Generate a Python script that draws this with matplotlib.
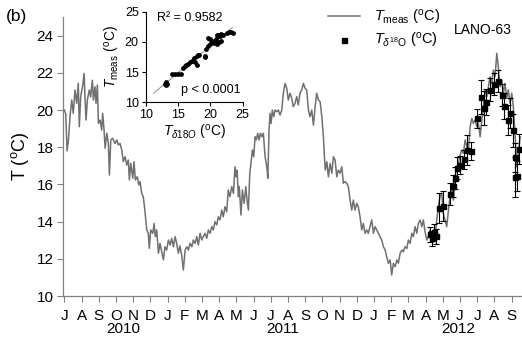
import numpy as np
import matplotlib
matplotlib.use("Agg")
import matplotlib.pyplot as plt
from matplotlib.lines import Line2D
from matplotlib.transforms import blended_transform_factory

plt.rcParams['font.family'] = ['Liberation Sans', 'DejaVu Sans']
plt.rcParams['mathtext.fontset'] = 'custom'
plt.rcParams['mathtext.rm'] = 'Liberation Sans'
plt.rcParams['mathtext.it'] = 'Liberation Sans:italic'
plt.rcParams['mathtext.bf'] = 'Liberation Sans:bold'

# ---- data: time in months since 1 July 2010 ----
meas_month = [0.0, 0.08, 0.16, 0.24, 0.33, 0.43, 0.52, 0.62, 0.72, 0.81, 0.87, 0.95, 1.07, 1.15, 1.2, 1.26,
              1.34, 1.45, 1.53, 1.63, 1.69, 1.78, 1.84, 1.92, 1.98, 2.08, 2.17, 2.23, 2.31, 2.37, 2.47, 2.56,
              2.62, 2.7, 2.81, 2.95, 3.05, 3.14, 3.24, 3.34, 3.43, 3.53, 3.63, 3.72, 3.78, 3.86, 3.98, 4.05,
              4.13, 4.24, 4.33, 4.4, 4.5, 4.59, 4.69, 4.79, 4.88, 4.94, 5.02, 5.14, 5.22, 5.29, 5.37, 5.47,
              5.56, 5.66, 5.76, 5.85, 5.95, 6.05, 6.15, 6.24, 6.34, 6.44, 6.53, 6.63, 6.72, 6.82, 6.92, 7.02,
              7.12, 7.21, 7.31, 7.41, 7.5, 7.6, 7.7, 7.79, 7.89, 7.99, 8.08, 8.18, 8.28, 8.37, 8.47, 8.57,
              8.66, 8.76, 8.86, 8.95, 9.05, 9.15, 9.24, 9.34, 9.44, 9.53, 9.63, 9.73, 9.83, 9.92, 9.98, 10.04,
              10.12, 10.17, 10.27, 10.35, 10.45, 10.55, 10.62, 10.7, 10.78, 10.85, 10.93, 11.01, 11.09, 11.16,
              11.24, 11.32, 11.4, 11.48, 11.57, 11.67, 11.77, 11.83, 11.9, 11.96, 12.02, 12.09, 12.17, 12.25,
              12.35, 12.44, 12.54, 12.64, 12.73, 12.83, 12.93, 13.02, 13.12, 13.22, 13.31, 13.41, 13.51, 13.6,
              13.7, 13.8, 13.9, 13.99, 14.09, 14.19, 14.28, 14.38, 14.48, 14.58, 14.67, 14.77, 14.87, 14.97,
              15.06, 15.12, 15.17, 15.26, 15.35, 15.45, 15.55, 15.64, 15.74, 15.84, 15.93, 16.03, 16.13, 16.22,
              16.32, 16.42, 16.51, 16.61, 16.71, 16.8, 16.9, 17.0, 17.09, 17.19, 17.29, 17.38, 17.48, 17.58,
              17.67, 17.77, 17.87, 17.97, 18.06, 18.16, 18.26, 18.35, 18.45, 18.55, 18.65, 18.74, 18.84, 18.94,
              19.03, 19.13, 19.23, 19.33, 19.42, 19.52, 19.62, 19.71, 19.81, 19.91, 20.0, 20.1, 20.2, 20.29,
              20.39, 20.49, 20.58, 20.68, 20.78, 20.87, 20.97, 21.07, 21.16, 21.26, 21.36, 21.45, 21.55, 21.65,
              21.74, 21.84, 21.94, 22.03, 22.13, 22.23, 22.33, 22.42, 22.52, 22.62, 22.72, 22.81, 22.91, 23.01,
              23.1, 23.2, 23.3, 23.4, 23.49, 23.59, 23.69, 23.78, 23.88, 23.98, 24.07, 24.17, 24.27, 24.36,
              24.46, 24.56, 24.65, 24.75, 24.85, 24.94, 25.04, 25.14, 25.23, 25.33, 25.43, 25.52, 25.62, 25.72,
              25.81, 25.91, 26.01, 26.1, 26.2, 26.3, 26.4, 26.5]
meas_temp = [20.0, 19.8, 17.8, 18.4, 19.64, 20.54, 19.82, 21.08, 20.36, 21.43, 19.1, 20.7, 21.34, 21.97, 20.7, 19.46,
             20.54, 21.08, 20.7, 21.6, 20.54, 21.25, 20.36, 21.34, 19.28, 19.46, 18.92, 19.82, 18.92, 17.94, 18.75, 18.2,
             16.5, 18.39, 18.48, 18.2, 18.39, 18.12, 18.2, 17.85, 17.22, 17.49, 17.04, 17.31, 16.24, 17.13, 16.33, 17.22,
             16.24, 16.41, 15.97, 16.15, 15.52, 15.34, 14.53, 13.55, 13.37, 12.56, 13.55, 13.37, 13.9, 13.19, 13.55, 12.3,
             12.83, 12.38, 11.94, 12.65, 12.47, 13.01, 12.74, 13.1, 12.65, 13.19, 12.83, 12.3, 12.7, 12.2, 11.4, 12.47,
             12.65, 12.47, 12.83, 12.65, 13.01, 12.83, 13.19, 12.74, 13.37, 13.01, 13.19, 13.37, 13.1, 13.55, 13.37, 13.73,
             13.55, 14.0, 13.82, 14.26, 14.09, 14.62, 14.26, 14.8, 14.53, 15.7, 15.34, 15.88, 15.52, 16.95, 16.41, 16.77,
             15.34, 15.88, 14.35, 15.7, 14.98, 15.88, 15.16, 14.62, 16.6, 17.13, 17.85, 17.49, 18.56, 18.39,
             18.75, 18.39, 18.75, 18.56, 18.75, 17.49, 16.95, 16.33, 18.92, 19.82, 19.28, 20.0, 19.64, 20.0,
             19.91, 20.0, 19.73, 20.0, 20.9, 21.43, 21.17, 20.54, 20.9, 20.63, 20.18, 20.36, 20.72, 20.27,
             20.9, 21.08, 21.43, 21.17, 21.08, 20.0, 19.64, 20.0, 19.19, 20.18, 20.9, 20.54, 20.45, 19.64,
             18.56, 17.49, 16.77, 17.22, 16.41, 17.13, 16.6, 17.49, 17.31, 16.41, 16.77, 16.6, 16.95, 16.06,
             16.15, 16.06, 15.88, 15.16, 14.62, 15.16, 14.62, 14.98, 14.8, 14.26, 13.55, 13.9, 13.37, 13.55,
             13.37, 13.73, 14.09, 13.37, 13.73, 13.55, 13.37, 13.19, 13.01, 12.65, 12.47, 12.11, 11.76, 11.94,
             11.13, 11.76, 11.58, 11.94, 11.76, 12.3, 12.47, 12.38, 12.65, 12.56, 13.01, 12.83, 13.37, 13.19,
             13.73, 13.37, 13.9, 14.09, 13.73, 14.09, 13.46, 13.01, 13.19, 13.55, 13.19, 13.46, 13.19, 14.09,
             14.8, 15.34, 15.52, 14.45, 14.09, 13.73, 14.62, 15.34, 15.88, 15.16, 16.41, 16.95, 17.13, 17.58,
             17.85, 17.67, 18.39, 18.03, 17.85, 19.1, 19.55, 19.28, 19.46, 19.1, 19.28, 18.56, 19.46, 20.18,
             21.08, 20.72, 21.25, 21.79, 21.43, 22.15, 21.79, 23.05, 22.33, 21.25, 21.61, 20.9, 21.43, 20.63,
             21.08, 20.36, 20.9, 20.18, 18.75, 16.95, 17.67, 18.56]

iso_month = [21.26, 21.4, 21.51, 21.61, 21.78, 22.03, 22.42, 22.58, 22.73, 22.85, 23.01, 23.24, 23.4, 23.63, 23.98,
             24.23, 24.4, 24.52, 24.75, 25.0, 25.2, 25.43, 25.58, 25.78, 25.91, 26.07, 26.19, 26.22, 26.34, 26.45]
iso_temp = [13.33, 13.1, 13.45, 13.2, 14.75, 14.85, 15.5, 15.9, 16.35, 16.9, 17.05, 17.35, 17.85, 17.8, 19.55,
            20.7, 20.1, 20.45, 21.1, 21.4, 21.55, 20.8, 20.2, 19.45, 19.85, 18.9, 17.45, 16.4, 16.45, 17.9]
iso_err = [0.4, 0.4, 0.4, 0.4, 0.8, 0.8, 0.6, 0.6, 0.6, 0.6, 0.5, 0.5, 0.8, 0.5, 0.5,
           0.9, 0.9, 0.7, 0.6, 0.6, 0.6, 0.6, 0.7, 0.8, 0.8, 0.9, 0.8, 1.1, 0.8, 0.8]

month_labels = list("JASONDJFMAMJJASONDJFMAMJJAS")
year_labels = ["2010", "2011", "2012"]
year_pos = [3.4, 12.7, 22.9]

# inset scatter: T_d18O (x) vs T_meas (y)
sc_x = [13.0, 13.1, 13.2, 13.3, 13.2, 14.1, 14.6, 15.0, 15.5, 15.8, 16.0, 16.3, 16.6, 16.9, 17.2, 17.5,
        17.7, 17.9, 18.1, 18.3, 17.9, 19.1, 19.2, 19.4, 19.6, 19.9, 19.7, 20.0, 20.3, 20.5, 20.7, 20.9,
        21.0, 21.2, 21.4, 21.5, 21.3, 21.6, 21.1, 21.7, 21.9, 22.6, 22.9, 23.2, 23.5]
sc_y = [13.1, 13.2, 12.9, 13.0, 13.3, 14.7, 14.75, 14.75, 14.7, 15.7, 16.0, 16.1, 16.4, 16.6, 16.9, 17.3,
        16.7, 17.6, 17.8, 17.9, 16.2, 17.7, 17.5, 18.9, 19.3, 19.6, 20.6, 20.4, 20.2, 19.9, 20.1, 20.4,
        21.1, 20.9, 21.2, 21.0, 20.0, 20.2, 19.6, 21.3, 21.1, 21.5, 21.6, 21.6, 21.5]
r2_text = "R² = 0.9582"
p_text = "p < 0.0001"

W, H = 522, 344
fig = plt.figure(figsize=(W / 100, H / 100), dpi=100)
ax = fig.add_axes([63.3 / W, 1 - 296 / H, (520.7 - 63.3) / W, (296 - 17) / H])

spine_c = '#808080'
ax.plot(meas_month, meas_temp, color='#707070', lw=1.1, zorder=2)
ax.errorbar(iso_month, iso_temp, yerr=iso_err, fmt='s', color='black', ms=3.6,
            ecolor='black', elinewidth=0.8, capsize=2.2, capthick=0.8, zorder=3)

ax.set_xlim(-0.06, 26.53)
ax.set_ylim(10, 25)
ax.set_yticks(np.arange(10, 25, 2))
ax.set_xticks(np.arange(len(month_labels)))
ax.set_xticklabels(month_labels)
for s in ['top', 'right']:
    ax.spines[s].set_visible(False)
for s in ['left', 'bottom']:
    ax.spines[s].set_color(spine_c)
    ax.spines[s].set_linewidth(0.9)
ax.tick_params(axis='both', direction='out', length=4, width=0.8, color=spine_c,
               labelsize=11, pad=3)
ax.tick_params(axis='x', pad=5)
ax.set_ylabel("T ($^{\\rm o}$C)", fontsize=13, labelpad=4)

tr = blended_transform_factory(ax.transData, ax.transAxes)
for lab, xp in zip(year_labels, year_pos):
    ax.text(xp, -0.12, lab, transform=tr, ha='center', va='center', fontsize=11)

fig.text(6 / W, 1 - 17 / H, "(b)", fontsize=12.5, va='center', ha='left')
ax.text(0.98, 0.955, "LANO-63", transform=ax.transAxes, ha='right', va='center', fontsize=10)

handles = [Line2D([], [], color='#707070', lw=1.1),
           Line2D([], [], color='black', marker='s', ls='none', ms=3.6)]
labels = ["$T_{\\rm meas}$ ($^{\\rm o}$C)", "$T_{\\delta^{18}{\\rm O}}$ ($^{\\rm o}$C)"]
fig.legend(handles, labels, loc='upper left', bbox_to_anchor=(322 / W, 1 - 2 / H),
           frameon=False, fontsize=10.5, handlelength=2.2, handletextpad=1.0,
           labelspacing=0.3, borderaxespad=0)

# inset
ins = fig.add_axes([145.7 / W, 1 - 102.3 / H, (242.7 - 145.7) / W, (102.3 - 11.7) / H])
ins.scatter(sc_x, sc_y, s=6, color='black', zorder=3)
coef = np.polyfit(sc_x, sc_y, 1)
xf = np.array([11.2, 23.4])
ins.plot(xf, np.polyval(coef, xf), color='#909090', lw=0.7, zorder=2)
ins.set_xlim(10, 25)
ins.set_ylim(10, 25)
ins.set_xticks([10, 15, 20, 25])
ins.set_yticks([10, 15, 20, 25])
for s in ['top', 'right']:
    ins.spines[s].set_visible(False)
for s in ['left', 'bottom']:
    ins.spines[s].set_color('black')
    ins.spines[s].set_linewidth(0.8)
ins.tick_params(direction='out', length=3, width=0.8, labelsize=9, pad=2)
ins.set_ylabel("$T_{\\rm meas}$ ($^{\\rm o}$C)", fontsize=10, labelpad=2)
ins.set_xlabel("$T_{\\delta 18O}$ ($^{\\rm o}$C)", fontsize=10, labelpad=1)
ins.text(0.12, 0.93, r2_text, transform=ins.transAxes, fontsize=9, va='center', ha='left')
ins.text(0.36, 0.135, p_text, transform=ins.transAxes, fontsize=9, va='center', ha='left')

fig.savefig("out.png", dpi=100)
